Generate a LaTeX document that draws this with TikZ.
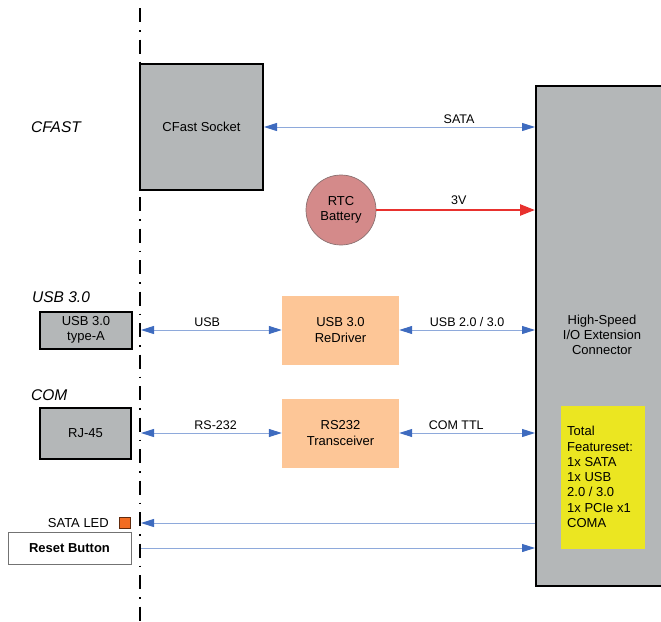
\documentclass[tikz,border=0pt]{standalone}
\usepackage{fontspec}
\setmainfont{Liberation Sans}
\usetikzlibrary{arrows.meta}
\definecolor{boxgray}{HTML}{B4B7B8}
\definecolor{peach}{HTML}{FDC697}
\definecolor{rose}{HTML}{D48A8A}
\definecolor{roseline}{HTML}{8A7070}
\definecolor{lblue}{HTML}{8EA9DB}
\definecolor{dblue}{HTML}{3E6BBF}
\definecolor{redline}{HTML}{E8312E}
\definecolor{yel}{HTML}{EBE621}
\definecolor{ledorange}{HTML}{F26C22}
\tikzset{
  graybox/.style={draw=black, line width=2pt, fill=boxgray, inner sep=0pt, align=center, font=\fontsize{13}{15.5}\selectfont},
  peachbox/.style={fill=peach, inner sep=0pt, align=center, minimum width=117pt, minimum height=69pt, font=\fontsize{13}{15.5}\selectfont},
  sideLabel/.style={font=\fontsize{15.5}{18}\selectfont\itshape, anchor=west, inner sep=0pt},
  sig/.style={draw=lblue, line width=1pt},
  bitip/.style={sig, {Triangle[length=13pt,width=8pt,color=dblue]}-{Triangle[length=13pt,width=8pt,color=dblue]}},
  onetip/.style={sig, -{Triangle[length=13pt,width=8pt,color=dblue]}},
  siglabel/.style={font=\fontsize{12.5}{15}\selectfont, inner sep=0pt},
}
\begin{document}
\begin{tikzpicture}[x=1pt,y=-1pt]
\useasboundingbox (0,0) rectangle (661,621);
\clip (0,0) rectangle (661,621);
% big connector
\node[draw=black, line width=2pt, fill=boxgray, minimum width=150pt, minimum height=500pt, anchor=north west, inner sep=0pt] (hs) at (535,85) {};
\node[align=center, font=\fontsize{13}{15.3}\selectfont, inner sep=0pt] (hstext) at (602,335) {High-Speed\\I/O Extension\\Connector};
\node[fill=yel, minimum width=84pt, minimum height=143pt, anchor=north west, inner sep=0pt] (feat) at (561,406) {};
\node[align=left, anchor=west, font=\fontsize{13}{15.3}\selectfont, inner sep=0pt] (feattext) at (567,477) {Total\\Featureset:\\1x SATA\\1x USB\\2.0 / 3.0\\1x PCIe x1\\COMA};
% CFast
\node[graybox, minimum width=123pt, minimum height=126pt] (cf) at (201.5,127) {CFast Socket};
\node[sideLabel] (cflab) at (31,127) {CFAST};
% RTC
\node[circle, draw=roseline, line width=0.7pt, fill=rose, minimum size=70pt, inner sep=0pt, align=center, font=\fontsize{13}{15.5}\selectfont] (rtc) at (341,210) {RTC\\Battery};
% USB
\node[sideLabel] (usblab) at (32,297) {USB 3.0};
\node[graybox, minimum width=92pt, minimum height=37pt] (usba) at (86,330) {USB 3.0\\type-A};
\node[peachbox] (rd) at (340.5,330) {USB 3.0\\ReDriver};
% COM
\node[sideLabel] (comlab) at (31,395) {COM};
\node[graybox, minimum width=91pt, minimum height=51pt] (rj) at (85.5,433) {RJ-45};
\node[peachbox] (tr) at (340.5,433) {RS232\\Transceiver};
% LED and reset
\node[draw=black!60!ledorange, line width=0.6pt, fill=ledorange, minimum size=11pt, inner sep=0pt] (led) at (125,522.5) {};
\node[anchor=east, font=\fontsize{13}{15.5}\selectfont, inner sep=0pt] (ledlab) at (109,523) {SATA LED};
\node[draw=black!55, line width=0.6pt, fill=white, minimum width=123pt, minimum height=32pt, inner sep=0pt, font=\fontsize{13}{15.5}\selectfont\bfseries] (rst) at (69.5,548) {Reset Button};
% coordinates on divider
\coordinate (dUSB) at (141,330);
\coordinate (dCOM) at (141,433);
\coordinate (dLED) at (141,523);
\coordinate (dRST) at (141,548);
% connectors
\draw[bitip] (cf.east) -- (cf.east -| hs.west) node[siglabel, pos=0.72, above=3pt] {SATA};
\draw[redline, line width=2.5pt, -{Triangle[length=15pt,width=11pt]}] (rtc.east) -- (rtc.east -| hs.west) node[siglabel, black, pos=0.52, above=4pt] {3V};
\draw[bitip] (dUSB) -- (rd.west) node[siglabel, pos=0.47, above=3pt] {USB};
\draw[bitip] (rd.east) -- (rd.east -| hs.west) node[siglabel, midway, above=3pt] {USB 2.0 / 3.0};
\draw[bitip] (dCOM) -- (tr.west) node[siglabel, pos=0.53, above=3pt] {RS-232};
\draw[bitip] (tr.east) -- (tr.east -| hs.west) node[siglabel, pos=0.42, above=3pt] {COM TTL};
\draw[onetip] (dLED -| hs.west) -- (dLED);
\draw[onetip] (dRST) -- (dRST -| hs.west);
% divider line
\coordinate (divTop) at (140,8);
\coordinate (divBot) at (140,625);
\draw[black, line width=2.4pt, dash pattern=on 14pt off 8pt on 1.5pt off 8pt] (divTop) -- (divBot);
\end{tikzpicture}
\end{document}
